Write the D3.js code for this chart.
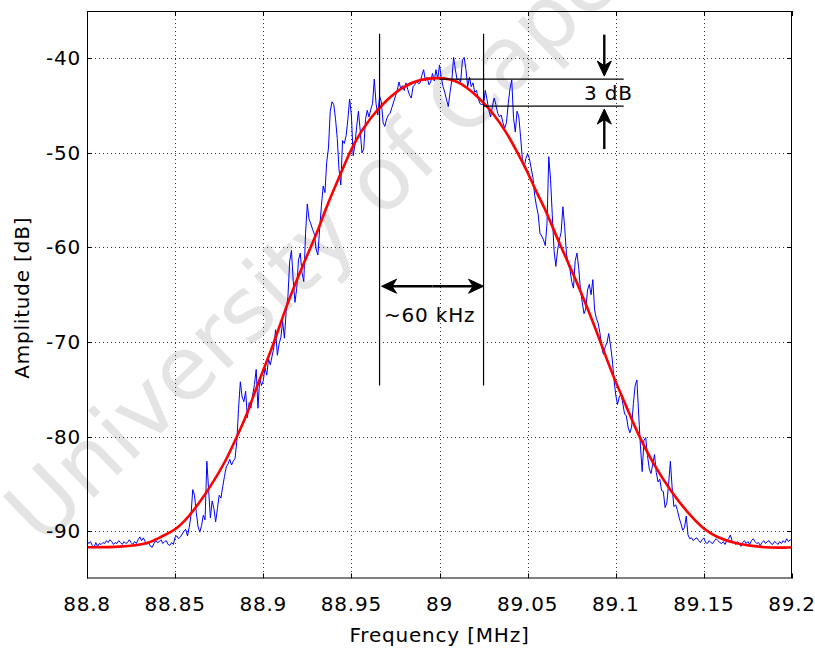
<!DOCTYPE html>
<html>
<head>
<meta charset="utf-8">
<script src="https://cdn.jsdelivr.net/npm/d3@7"></script>
<style>
body { margin: 0; background: #fff; }
text { font-family: "DejaVu Sans", sans-serif; }
</style>
</head>
<body>
<div id="chart"></div>
<script>
// tick values and labels
const xTicks = [88.8, 88.85, 88.9, 88.95, 89, 89.05, 89.1, 89.15, 89.2];
const xTickLabels = ["88.8", "88.85", "88.9", "88.95", "89", "89.05", "89.1", "89.15", "89.2"];
const yTicks = [-90, -80, -70, -60, -50, -40];

// fitted curve (red)
const fitFreq = [88.800, 88.819, 88.836, 88.841, 88.850, 88.860, 88.870, 88.879, 88.885, 88.891,
  88.896, 88.906, 88.913, 88.923, 88.931, 88.936, 88.944, 88.951, 88.961, 88.970,
  88.979, 88.989, 88.999, 89.006, 89.012, 89.019, 89.025, 89.030, 89.038, 89.044,
  89.050, 89.055, 89.059, 89.068, 89.076, 89.085, 89.091, 89.098, 89.106, 89.113,
  89.121, 89.132, 89.142, 89.150, 89.157, 89.167, 89.186, 89.200];
const fitDb = [-91.7, -91.7, -91.3, -90.6, -90.0, -88.0, -85.3, -82.5, -80.0, -77.6,
  -74.8, -70.2, -66.2, -61.6, -58.3, -55.6, -52.2, -49.0, -46.2, -44.4,
  -43.0, -42.2, -42.05, -42.2, -42.6, -43.6, -44.7, -45.7, -47.8, -49.9,
  -52.0, -54.2, -55.5, -59.6, -62.8, -66.9, -69.8, -73.4, -76.8, -79.9,
  -82.8, -86.0, -88.3, -89.8, -90.6, -91.3, -91.8, -91.7];

// measured spectrum (blue), one sample every 1 kHz starting at 88.8 MHz
const measStart = 88.8;
const measStep = 0.001;
const measDb = [
  -91.0, -91.3, -91.1, -91.5, -91.7, -91.2, -91.6, -91.3, -91.4, -91.2,
  -91.3, -91.0, -91.2, -90.9, -91.1, -91.4, -91.2, -91.3, -91.0, -91.2,
  -91.4, -91.1, -91.3, -91.2, -90.9, -91.2, -91.4, -91.1, -91.3, -90.9,
  -90.6, -91.0, -90.7, -91.1, -91.4, -91.2, -91.6, -91.7, -91.3, -91.0,
  -91.2, -91.1, -90.9, -91.3, -91.1, -91.0, -91.4, -91.5, -91.2, -91.4,
  -90.6, -90.5, -90.8, -90.6, -90.3, -90.0, -89.8, -90.5, -89.6, -88.3,
  -85.6, -86.2, -88.0, -89.5, -90.1, -89.4, -88.3, -88.8, -82.6, -85.6,
  -88.6, -86.8, -87.6, -89.0, -87.6, -86.2, -86.5, -85.3, -84.2, -83.2,
  -82.9, -82.4, -83.0, -82.6, -82.3, -80.5, -77.0, -74.2, -75.8, -76.3,
  -75.2, -78.0, -76.4, -77.0, -75.6, -74.5, -72.9, -77.0, -73.8, -74.6,
  -74.1, -72.7, -73.5, -71.8, -72.4, -71.5, -70.6, -68.7, -71.4, -70.2,
  -69.5, -67.8, -69.6, -66.8, -65.2, -61.5, -60.3, -63.5, -65.8, -64.3,
  -61.3, -60.6, -62.7, -63.6, -58.5, -55.4, -57.0, -57.5, -58.1, -58.6,
  -60.2, -60.8, -58.0, -55.6, -53.5, -54.2, -51.0, -49.5, -45.6, -44.6,
  -44.9, -46.4, -48.5, -51.8, -53.4, -48.7, -49.0, -48.2, -46.5, -44.3,
  -46.0, -50.3, -49.2, -47.2, -45.6, -47.6, -50.0, -49.6, -46.5, -45.5,
  -46.2, -45.4, -44.8, -42.2, -44.8, -46.0, -44.0, -44.6, -46.8, -47.2,
  -46.4, -46.0, -45.8, -45.2, -44.6, -44.0, -43.4, -42.5, -43.2, -42.9,
  -43.4, -42.6, -43.3, -43.9, -44.2, -43.0, -42.8, -42.3, -42.7, -42.6,
  -41.8, -41.2, -42.4, -42.0, -42.8, -42.5, -41.6, -42.4, -41.2, -42.2,
  -40.7, -42.0, -43.0, -43.6, -44.4, -45.1, -43.6, -42.3, -39.9, -41.2,
  -42.3, -42.2, -42.5, -40.2, -39.9, -41.2, -43.0, -42.0, -43.0, -42.6,
  -43.6, -43.4, -44.3, -44.8, -44.9, -44.8, -43.4, -44.4, -45.5, -46.2,
  -45.1, -44.2, -44.9, -45.8, -46.2, -46.0, -46.8, -47.4, -46.8, -44.8,
  -43.2, -42.3, -46.3, -47.8, -45.6, -46.2, -48.3, -50.6, -51.5, -50.6,
  -50.1, -50.6, -51.6, -52.6, -54.5, -55.6, -56.5, -58.5, -58.8, -59.2,
  -59.8, -57.5, -50.4, -52.8, -56.6, -60.3, -62.0, -60.3, -59.2, -58.4,
  -55.7, -57.8, -60.6, -61.8, -62.3, -63.6, -64.3, -61.4, -60.6, -62.2,
  -64.5, -65.8, -67.0, -66.5, -64.5, -63.9, -65.0, -63.4, -66.6, -67.5,
  -68.0, -69.0, -70.5, -71.3, -70.5, -70.1, -69.1, -70.3, -71.8, -74.0,
  -75.6, -76.6, -75.8, -75.5, -76.5, -77.6, -77.8, -79.0, -79.6, -79.0,
  -76.5, -74.6, -74.0, -77.6, -81.0, -83.7, -80.4, -80.1, -82.0, -83.4,
  -83.9, -82.9, -81.9, -83.8, -84.8, -84.5, -85.7, -85.8, -87.5, -87.0,
  -85.0, -82.6, -85.4, -87.4, -87.2, -87.8, -88.6, -89.2, -89.9, -89.6,
  -88.4, -90.4, -90.8, -90.7, -91.0, -90.8, -90.7, -91.0, -91.2, -90.9,
  -90.7, -91.2, -91.3, -91.0, -91.2, -91.3, -91.0, -90.8, -91.0, -91.2,
  -91.3, -91.1, -91.4, -91.0, -90.8, -90.4, -91.0, -91.2, -91.4, -91.1,
  -91.3, -91.6, -91.2, -91.0, -91.3, -91.1, -91.4, -91.0, -90.8, -91.1,
  -91.3, -91.2, -91.5, -91.2, -91.0, -91.3, -91.1, -91.0, -91.3, -91.4,
  -91.1, -91.2, -91.4, -91.1, -91.3, -91.0, -91.2, -90.8, -91.1, -90.9,
  -91.0];

// annotation values (MHz, dB)
const bwFreq = [88.966, 89.025];      // -3 dB points
const bwLineDb = [-37.4, -74.6];      // extent of the vertical markers
const bwArrowDb = -64.1;
const levelDb = [-42.2, -45.05];      // peak and -3 dB levels
const levelStartFreq = [89.0, 89.025];
const levelEndFreq = 89.1045;
const dbArrowFreq = 89.0935;
const dbArrowTail = [-37.5, -49.6];

const width = 815;
const height = 648;
const margin = { top: 11, left: 87, right: 23, bottom: 70 };

const svg = d3.select("#chart")
  .append("svg")
  .attr("width", width)
  .attr("height", height);

// watermark behind everything
svg.append("text")
  .attr("transform", "translate(42,548) rotate(-44)")
  .attr("font-size", 88)
  .attr("fill", "#e4e4e4")
  .text("University of Cape");

const xScale = d3.scaleLinear()
  .domain([88.8, 89.2])
  .range([margin.left, width - margin.right]);

const yScale = d3.scaleLinear()
  .domain([-95, -35])
  .range([height - margin.bottom + 0.5, margin.top]);

const x0 = xScale.range()[0], x1 = xScale.range()[1];
const y0 = yScale.range()[0], y1 = yScale.range()[1];

// dotted grid
const grid = svg.append("g")
  .attr("stroke", "#333")
  .attr("stroke-width", 1)
  .attr("stroke-dasharray", "1,3");

grid.selectAll(".gx")
  .data(xTicks.slice(1, -1))
  .join("line")
  .attr("x1", d => Math.round(xScale(d)) + 0.5)
  .attr("x2", d => Math.round(xScale(d)) + 0.5)
  .attr("y1", y1)
  .attr("y2", y0);

grid.selectAll(".gy")
  .data(yTicks)
  .join("line")
  .attr("x1", x0)
  .attr("x2", x1)
  .attr("y1", d => Math.round(yScale(d)) + 0.5)
  .attr("y2", d => Math.round(yScale(d)) + 0.5);

// data lines
const fitLine = d3.line()
  .x((d, i) => xScale(fitFreq[i]))
  .y(d => yScale(d))
  .curve(d3.curveBasis);

const measLine = d3.line()
  .x((d, i) => xScale(measStart + i * measStep))
  .y(d => yScale(d));

svg.append("path")
  .datum(measDb)
  .attr("fill", "none")
  .attr("stroke", "#0000ff")
  .attr("stroke-width", 1)
  .attr("d", measLine);

svg.append("path")
  .datum(fitDb)
  .attr("fill", "none")
  .attr("stroke", "#ff0000")
  .attr("stroke-width", 2.6)
  .attr("d", fitLine);

// axes box with inward ticks
const tickLen = 5;
const axes = svg.append("g").attr("stroke", "#000").attr("stroke-width", 1);

axes.append("rect")
  .attr("x", x0 + 0.5)
  .attr("y", y1 + 0.5)
  .attr("width", x1 - x0 - 1)
  .attr("height", y0 - y1 - 1)
  .attr("fill", "none");

xTicks.forEach(t => {
  const px = Math.round(xScale(t)) + 0.5;
  axes.append("line").attr("x1", px).attr("x2", px).attr("y1", y0).attr("y2", y0 - tickLen);
  axes.append("line").attr("x1", px).attr("x2", px).attr("y1", y1).attr("y2", y1 + tickLen);
});
yTicks.forEach(t => {
  const py = Math.round(yScale(t)) + 0.5;
  axes.append("line").attr("x1", x0).attr("x2", x0 + tickLen).attr("y1", py).attr("y2", py);
  axes.append("line").attr("x1", x1).attr("x2", x1 - tickLen).attr("y1", py).attr("y2", py);
});

// tick labels
svg.append("g")
  .selectAll("text")
  .data(xTicks)
  .join("text")
  .attr("x", d => xScale(d))
  .attr("y", y0 + 32)
  .attr("text-anchor", "middle")
  .attr("font-size", 20)
  .attr("letter-spacing", 0.8)
  .text((d, i) => xTickLabels[i]);

svg.append("g")
  .selectAll("text")
  .data(yTicks)
  .join("text")
  .attr("x", x0 - 6)
  .attr("y", d => yScale(d) + 7)
  .attr("text-anchor", "end")
  .attr("font-size", 20)
  .attr("letter-spacing", 0.8)
  .text(d => d);

// axis titles
svg.append("text")
  .attr("x", (x0 + x1) / 2)
  .attr("y", height - 6)
  .attr("text-anchor", "middle")
  .attr("font-size", 20)
  .attr("letter-spacing", 0.8)
  .text("Frequency [MHz]");

svg.append("text")
  .attr("transform", `translate(29,${(y0 + y1) / 2 + 3}) rotate(-90)`)
  .attr("text-anchor", "middle")
  .attr("font-size", 20)
  .attr("letter-spacing", 0.8)
  .text("Amplitude [dB]");

// annotations
const ann = svg.append("g").attr("stroke", "#000");

bwFreq.forEach(f => {
  ann.append("line")
    .attr("x1", xScale(f)).attr("x2", xScale(f))
    .attr("y1", yScale(bwLineDb[0])).attr("y2", yScale(bwLineDb[1]))
    .attr("stroke-width", 1.2);
});

levelDb.forEach((v, i) => {
  ann.append("line")
    .attr("x1", xScale(levelStartFreq[i])).attr("x2", xScale(levelEndFreq))
    .attr("y1", yScale(v)).attr("y2", yScale(v))
    .attr("stroke-width", 1.2);
});

// arrow head: tip point, direction, length, half width
function head(tx, ty, dx, dy, len, hw) {
  const nx = -dy, ny = dx;
  const back = len * 0.7;
  return `M${tx},${ty}` +
    `L${tx - dx * len + nx * hw},${ty - dy * len + ny * hw}` +
    `L${tx - dx * back},${ty - dy * back}` +
    `L${tx - dx * len - nx * hw},${ty - dy * len - ny * hw}Z`;
}

function arrow(xa, ya, xb, yb) {
  const L = Math.hypot(xb - xa, yb - ya);
  const dx = (xb - xa) / L, dy = (yb - ya) / L;
  ann.append("line")
    .attr("x1", xa).attr("y1", ya)
    .attr("x2", xb - dx * 8).attr("y2", yb - dy * 8)
    .attr("stroke-width", 2.4);
  ann.append("path")
    .attr("d", head(xb, yb, dx, dy, 15, 7))
    .attr("fill", "#000")
    .attr("stroke-width", 1)
    .attr("stroke-linejoin", "round");
}

const ax = xScale(dbArrowFreq);
arrow(ax, yScale(dbArrowTail[0]), ax, yScale(levelDb[0]) - 3);
arrow(ax, yScale(dbArrowTail[1]), ax, yScale(levelDb[1]) + 3);

const hy = yScale(bwArrowDb);
const hxa = xScale(bwFreq[0]) + 2, hxb = xScale(bwFreq[1]);
const mid = (hxa + hxb) / 2;
arrow(mid, hy, hxa, hy);
arrow(mid, hy, hxb, hy);

svg.append("text")
  .attr("x", 584)
  .attr("y", 100)
  .attr("font-size", 20)
  .attr("letter-spacing", 0.8)
  .text("3 dB");

svg.append("text")
  .attr("x", 384)
  .attr("y", 322)
  .attr("font-size", 20)
  .attr("letter-spacing", 0.8)
  .text("~60 kHz");
</script>
</body>
</html>
